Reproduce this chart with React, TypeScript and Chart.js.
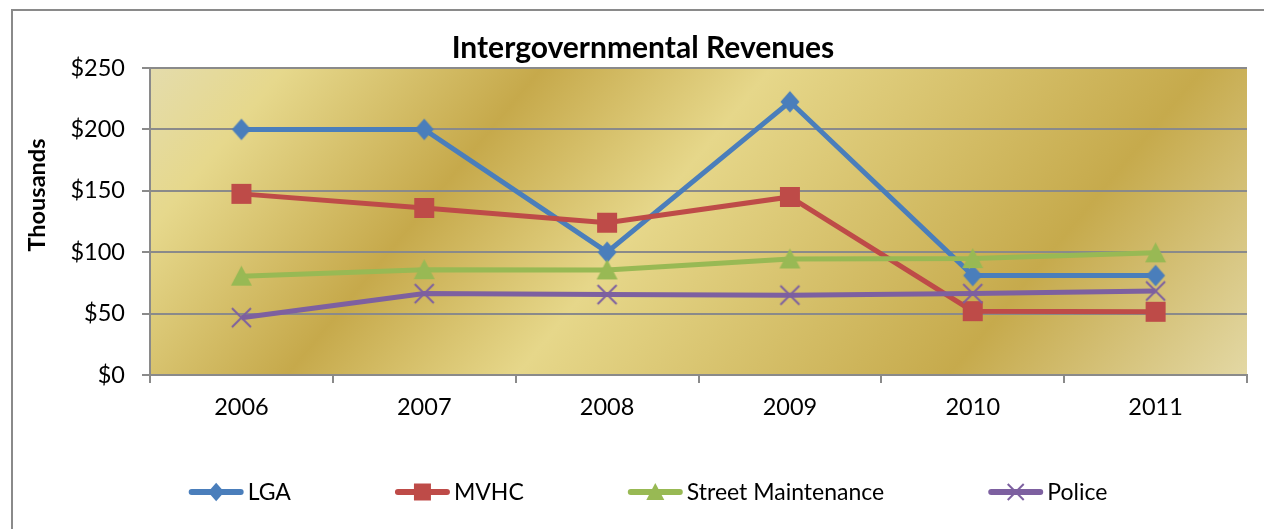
import React, { useEffect, useRef } from "react";
import { Chart, registerables } from "chart.js";

Chart.register(...registerables);

const years = ["2006", "2007", "2008", "2009", "2010", "2011"];
const lga = [200, 200, 100, 222.5, 81, 81];
const mvhc = [147.5, 136, 124, 145, 52, 51.5];
const streetMaintenance = [80.5, 85.8, 85.6, 94.5, 94.8, 99.5];
const police = [46.7, 66.3, 65.5, 65, 66.3, 68.4];
const yTickValues = [0, 50, 100, 150, 200, 250];
const seriesNames = ["LGA", "MVHC", "Street Maintenance", "Police"];

const COLORS = ["#4a7ebb", "#be4b48", "#98b954", "#7d60a0"];
const MARKERS = ["diamond", "square", "triangle", "cross"];
const FONT = "Lato, 'Open Sans', sans-serif";

function drawMarker(ctx: CanvasRenderingContext2D, kind: string, x: number, y: number, s: number, color: string) {
  const h = s / 2;
  ctx.save();
  ctx.fillStyle = color;
  ctx.strokeStyle = color;
  ctx.beginPath();
  if (kind === "diamond") {
    ctx.moveTo(x, y - h * 1.08);
    ctx.lineTo(x + h * 0.95, y);
    ctx.lineTo(x, y + h * 1.08);
    ctx.lineTo(x - h * 0.95, y);
    ctx.closePath();
    ctx.fill();
  } else if (kind === "square") {
    ctx.rect(x - h, y - h, s, s);
    ctx.fill();
  } else if (kind === "triangle") {
    ctx.moveTo(x, y - h);
    ctx.lineTo(x + h, y + h * 0.9);
    ctx.lineTo(x - h, y + h * 0.9);
    ctx.closePath();
    ctx.fill();
  } else {
    ctx.lineWidth = 2;
    ctx.moveTo(x - h, y - h);
    ctx.lineTo(x + h, y + h);
    ctx.moveTo(x + h, y - h);
    ctx.lineTo(x - h, y + h);
    ctx.stroke();
  }
  ctx.restore();
}

function markerImage(kind: string, s: number, color: string) {
  const c = document.createElement("canvas");
  const size = Math.ceil(s + 4);
  c.width = size;
  c.height = size;
  const ctx = c.getContext("2d")!;
  drawMarker(ctx, kind, size / 2, size / 2, s, color);
  return c;
}

const MARKER_SIZES = [20, 20, 21, 19];

const gradientPlugin = {
  id: "plotGradient",
  beforeDraw(chart: any) {
    const { ctx, chartArea } = chart;
    const { left, top, right, bottom } = chartArea;
    const g = ctx.createLinearGradient(left, top, left + 800, top + 664);
    g.addColorStop(0, "#e4dcac");
    g.addColorStop(0.1, "#e6d88c");
    g.addColorStop(0.29, "#c6a94b");
    g.addColorStop(0.46, "#e6d78a");
    g.addColorStop(0.78, "#c6aa4c");
    g.addColorStop(1, "#e3d8a4");
    ctx.save();
    ctx.fillStyle = g;
    ctx.fillRect(left, top, right - left, bottom - top);
    ctx.restore();
  },
};

const textPlugin = {
  id: "texts",
  afterDraw(chart: any) {
    const { ctx } = chart;
    ctx.save();
    ctx.fillStyle = "#000";
    // title
    ctx.font = `bold 30px ${FONT}`;
    ctx.textAlign = "center";
    ctx.textBaseline = "alphabetic";
    ctx.fillText("Intergovernmental Revenues", chart.width / 2 - 5, 47);
    // y axis title
    ctx.save();
    ctx.translate(24, 184);
    ctx.rotate(-Math.PI / 2);
    ctx.font = `bold 23.5px ${FONT}`;
    ctx.textBaseline = "middle";
    ctx.fillText("Thousands", 0, 0);
    ctx.restore();
    // legend
    ctx.font = `23px ${FONT}`;
    const lineLen = 55;
    const textGap = 4;
    const itemGap = 104;
    const widths = seriesNames.map((n) => lineLen + textGap + ctx.measureText(n).width);
    const total = widths.reduce((a, b) => a + b, 0) + itemGap * (seriesNames.length - 1);
    let x = chart.width / 2 - total / 2;
    const y = 481;
    seriesNames.forEach((name, i) => {
      ctx.save();
      ctx.strokeStyle = COLORS[i];
      ctx.lineWidth = 6;
      ctx.lineCap = "round";
      ctx.beginPath();
      ctx.moveTo(x + 3, y);
      ctx.lineTo(x + lineLen - 3, y);
      ctx.stroke();
      ctx.restore();
      drawMarker(ctx, MARKERS[i], x + lineLen / 2, y, MARKER_SIZES[i] - 3, COLORS[i]);
      ctx.textAlign = "left";
      ctx.textBaseline = "middle";
      ctx.fillStyle = "#000";
      ctx.fillText(name, x + lineLen + textGap, y + 1);
      x += widths[i] + itemGap;
    });
    ctx.restore();
  },
};

export default function App() {
  const ref = useRef<HTMLCanvasElement>(null);
  useEffect(() => {
    if (!ref.current) return;
    const seriesData = [lga, mvhc, streetMaintenance, police];
    const chart = new Chart(ref.current, {
      type: "line",
      data: {
        labels: years,
        datasets: seriesData.map((d, i) => ({
          label: seriesNames[i],
          data: d,
          borderColor: COLORS[i],
          backgroundColor: COLORS[i],
          borderWidth: 5,
          tension: 0,
          pointStyle: markerImage(MARKERS[i], MARKER_SIZES[i], COLORS[i]) as any,
          pointRadius: 10,
          order: 4 - i,
          clip: false as any,
        })),
      },
      options: {
        responsive: false,
        animation: false,
        layout: { padding: { left: 0, top: 57, right: 36, bottom: 100 } },
        plugins: {
          legend: { display: false },
          title: { display: false },
          tooltip: { enabled: false },
        },
        scales: {
          x: {
            offset: true,
            grid: {
              offset: true,
              drawOnChartArea: false,
              tickLength: 8,
              color: "#8a8a8a",
              lineWidth: 2,
            },
            border: { color: "#8a8a8a", width: 2 },
            ticks: { color: "#000", font: { family: FONT, size: 23.5 }, padding: 10 },
            afterFit: (s: any) => {
              s.height = 54;
            },
          },
          y: {
            min: 0,
            max: 250,
            afterBuildTicks: (s: any) => {
              s.ticks = yTickValues.map((v) => ({ value: v }));
            },
            grid: { color: "#8a8a8a", lineWidth: 2, tickLength: 8 },
            border: { color: "#8a8a8a", width: 2 },
            ticks: {
              color: "#000",
              font: { family: FONT, size: 23.5 },
              padding: 17,
              callback: (v: any) => `$${v}`,
            },
            afterFit: (s: any) => {
              s.width = 137;
            },
          },
        },
      },
      plugins: [gradientPlugin, textPlugin],
    });
    return () => chart.destroy();
  }, []);

  return (
    <div style={{ position: "relative", width: 1264, height: 521, overflow: "hidden" }}>
      <div
        style={{
          position: "absolute",
          left: 3,
          top: 1,
          width: 1270,
          height: 560,
          border: "2px solid #8a8a8a",
          background: "#fff",
        }}
      >
        <canvas ref={ref} width={1270} height={518} style={{ display: "block" }} />
      </div>
    </div>
  );
}
